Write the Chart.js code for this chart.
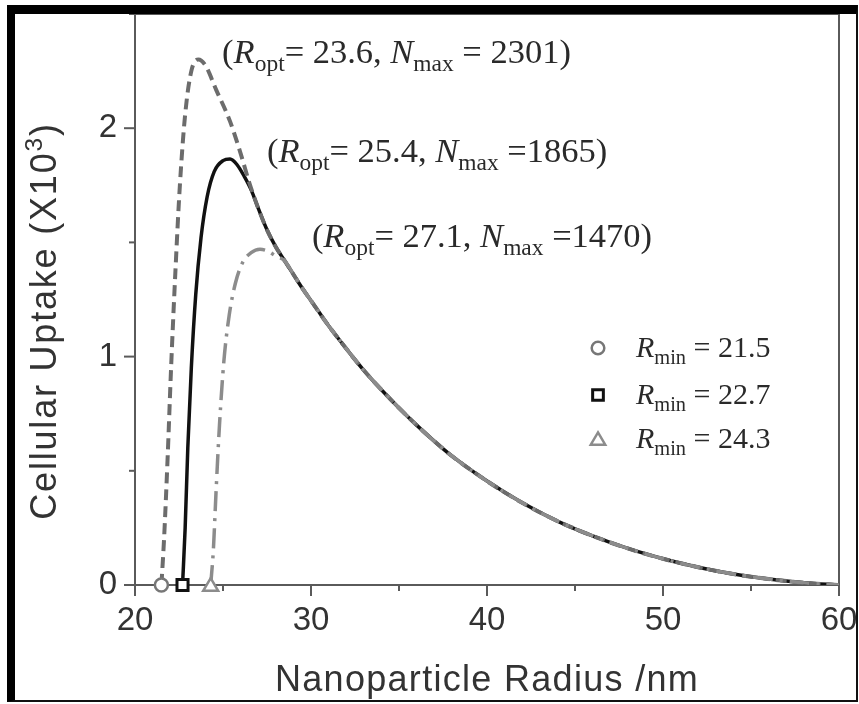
<!DOCTYPE html>
<html>
<head>
<meta charset="utf-8">
<script src="https://cdn.jsdelivr.net/npm/chart.js@4.4.1/dist/chart.umd.min.js"></script>
<style>
  html, body { margin: 0; padding: 0; background: #ffffff; }
  #wrap { position: relative; width: 859px; height: 704px; }
  #plot { position: absolute; left: 0; top: 0; }
  #frame {
    position: absolute; left: 7px; top: 5px; width: 851px; height: 697px;
    box-sizing: border-box; pointer-events: none;
    border-top: 9px solid #000; border-left: 8px solid #000;
    border-right: 2px solid #111; border-bottom: 2px solid #111;
  }
</style>
</head>
<body>
<div id="wrap">
  <canvas id="plot" width="859" height="704"></canvas>
  <div id="frame"></div>
</div>
<script>
// Minimum radius, optimal radius and peak uptake for the three cases
const rMin = [21.5, 22.7, 24.3];
const rOpt = [23.6, 25.4, 27.1];
const nMax = [2301, 1865, 1470];

// Rising and falling branches of each curve (uptake in units of 10^3)
const dashedRiseR = [21.65, 21.85, 22.05, 22.3, 22.55, 22.85, 23.2];
const dashedRiseN = [0.2, 0.55, 0.95, 1.38, 1.75, 2.06, 2.25];
const dashedFallR = [24.0, 24.6, 25.4, 26.0, 26.5, 27.0];
const dashedFallN = [2.275, 2.17, 2.03, 1.89, 1.76, 1.65];

const solidRiseR = [22.85, 23.0, 23.2, 23.45, 23.75, 24.1, 24.5, 25.0];
const solidRiseN = [0.25, 0.6, 0.95, 1.27, 1.52, 1.70, 1.81, 1.858];
const solidFallR = [25.8, 26.2, 26.6, 27.0];
const solidFallN = [1.84, 1.79, 1.73, 1.65];

const dashDotRiseR = [24.45, 24.6, 24.8, 25.05, 25.35, 25.7, 26.1, 26.6];
const dashDotRiseN = [0.15, 0.40, 0.70, 0.98, 1.18, 1.32, 1.41, 1.455];
const dashDotFallR = [27.6, 28.0];
const dashDotFallN = [1.46, 1.44];

// Shared decaying branch at large radius
const tailR = [27.5, 28, 28.5, 29, 29.5, 30, 31, 32, 33, 34, 35, 36, 37, 38, 40, 42, 44, 46, 48, 50, 52, 54, 56, 58, 60];
const tailN = [1.555, 1.48, 1.42, 1.36, 1.30, 1.245, 1.135, 1.035, 0.94, 0.855, 0.775, 0.70, 0.63, 0.565, 0.455, 0.36, 0.28, 0.215, 0.16, 0.115, 0.078, 0.048, 0.026, 0.01, 0];

// Axis ticks
const xTicks = [20, 30, 40, 50, 60];
const yTicks = [0, 1, 2];

function zip(rs, ns) { return rs.map((r, i) => ({ x: r, y: ns[i] })); }

function buildCurve(i, riseR, riseN, fallR, fallN) {
  const pts = [{ x: rMin[i], y: 0 }]
    .concat(zip(riseR, riseN))
    .concat([{ x: rOpt[i], y: nMax[i] / 1000 }])
    .concat(zip(fallR, fallN));
  const last = pts[pts.length - 1].x;
  return pts.concat(zip(tailR, tailN).filter(p => p.x > last));
}

const curveDashed = buildCurve(0, dashedRiseR, dashedRiseN, dashedFallR, dashedFallN);
const curveSolid = buildCurve(1, solidRiseR, solidRiseN, solidFallR, solidFallN);
const curveDashDot = buildCurve(2, dashDotRiseR, dashDotRiseN, dashDotFallR, dashDotFallN);

const SANS = '"Liberation Sans", Arial, sans-serif';
const SERIF = '"Liberation Serif", "Times New Roman", serif';

// Text runs made of pieces that may be italic, subscript or superscript
function setPartFont(ctx, p, size, family) {
  const s = (p.sub || p.sup) ? size * 0.68 : size;
  ctx.font = (p.italic ? 'italic ' : '') + s + 'px ' + family;
}
function richWidth(ctx, parts, size, family) {
  let w = 0;
  for (const p of parts) { setPartFont(ctx, p, size, family); w += ctx.measureText(p.t).width; }
  return w;
}
function drawRich(ctx, x, y, parts, size, family, color) {
  ctx.fillStyle = color;
  ctx.textBaseline = 'alphabetic';
  ctx.textAlign = 'left';
  for (const p of parts) {
    setPartFont(ctx, p, size, family);
    const dy = p.sub ? size * 0.22 : (p.sup ? -size * 0.40 : 0);
    ctx.fillText(p.t, x, y + dy);
    x += ctx.measureText(p.t).width;
  }
  return x;
}

function markerPath(ctx, style, x, y, r) {
  ctx.beginPath();
  if (style === 'circle') {
    ctx.arc(x, y, r, 0, Math.PI * 2);
  } else if (style === 'rect') {
    ctx.rect(x - r * 0.85, y - r * 0.85, r * 1.7, r * 1.7);
  } else {
    ctx.moveTo(x, y - r * 1.05);
    ctx.lineTo(x + r * 1.15, y + r * 0.9);
    ctx.lineTo(x - r * 1.15, y + r * 0.9);
    ctx.closePath();
  }
}

const markerStyles = ['circle', 'rect', 'triangle'];
const markerColors = ['#777777', '#111111', '#8c8c8c'];
const markerWidths = [2.5, 3, 2.5];

const decorations = {
  id: 'decorations',
  beforeDatasetsDraw(chart) {
    const { ctx, chartArea: a, scales: { x, y } } = chart;
    ctx.save();
    ctx.strokeStyle = '#5a5a5a';
    ctx.lineWidth = 2;
    // top and right frame lines
    ctx.beginPath();
    ctx.moveTo(a.left, a.top); ctx.lineTo(a.right, a.top); ctx.lineTo(a.right, a.bottom);
    ctx.stroke();
    // outward ticks, long at labelled values
    for (let v = 20; v <= 60; v += 5) {
      const px = x.getPixelForValue(v);
      const len = v % 10 === 0 ? 11 : 6;
      ctx.beginPath(); ctx.moveTo(px, a.bottom); ctx.lineTo(px, a.bottom + len); ctx.stroke();
    }
    for (let v = 0; v <= 2.5; v += 0.5) {
      const py = y.getPixelForValue(v);
      const len = Number.isInteger(v) ? 11 : 6;
      ctx.beginPath(); ctx.moveTo(a.left, py); ctx.lineTo(a.left - len, py); ctx.stroke();
    }
    ctx.restore();
  },
  afterDraw(chart) {
    const { ctx, chartArea: a, scales: { x, y } } = chart;
    ctx.save();
    const textColor = '#2a2a2a';

    // x-axis title
    ctx.font = '36px ' + SANS;
    ctx.letterSpacing = '1.3px';
    ctx.fillStyle = '#333';
    ctx.textAlign = 'center';
    ctx.textBaseline = 'alphabetic';
    ctx.fillText('Nanoparticle Radius /nm', (a.left + a.right) / 2, 691);

    // y-axis title with superscript
    ctx.letterSpacing = '1.8px';
    const yParts = [{ t: 'Cellular Uptake (X10' }, { t: '3', sup: true }, { t: ')' }];
    const yw = richWidth(ctx, yParts, 36, SANS);
    ctx.translate(56, 321);
    ctx.rotate(-Math.PI / 2);
    drawRich(ctx, -yw / 2, 0, yParts, 36, SANS, '#333');
    ctx.setTransform(1, 0, 0, 1, 0, 0);
    ctx.letterSpacing = '0px';

    // peak annotations
    const annX = [24.95, 27.5, 30.05];
    const annY = [2.285, 1.85, 1.48];
    const eqGap = [' = ', ' =', ' ='];
    for (let i = 0; i < 3; i++) {
      const parts = [
        { t: '(' }, { t: 'R', italic: true }, { t: 'opt', sub: true },
        { t: '= ' + rOpt[i].toFixed(1) + ', ' }, { t: 'N', italic: true }, { t: 'max', sub: true },
        { t: eqGap[i] + nMax[i] + ')' }
      ];
      drawRich(ctx, x.getPixelForValue(annX[i]), y.getPixelForValue(annY[i]), parts, 34.5, SERIF, textColor);
    }

    // legend
    const legX = 598, legTextX = 636;
    const legY = [348, 395, 439];
    for (let i = 0; i < 3; i++) {
      ctx.fillStyle = '#ffffff';
      ctx.strokeStyle = markerColors[i];
      ctx.lineWidth = markerWidths[i];
      markerPath(ctx, markerStyles[i], legX, legY[i], 6.3);
      ctx.fill(); ctx.stroke();
      const parts = [{ t: 'R', italic: true }, { t: 'min', sub: true }, { t: ' = ' + rMin[i].toFixed(1) }];
      drawRich(ctx, legTextX, legY[i] + 9, parts, 30, SERIF, textColor);
    }
    ctx.restore();
  }
};

// markers sitting on the radius axis at each minimum radius
const markerPlugin = {
  id: 'axisMarkers',
  afterDatasetsDraw(chart) {
    const { ctx, scales: { x, y } } = chart;
    ctx.save();
    for (let i = 0; i < 3; i++) {
      ctx.fillStyle = '#ffffff';
      ctx.strokeStyle = markerColors[i];
      ctx.lineWidth = markerWidths[i];
      markerPath(ctx, markerStyles[i], x.getPixelForValue(rMin[i]), y.getPixelForValue(0), 6.5);
      ctx.fill(); ctx.stroke();
    }
    ctx.restore();
  }
};

function noEdgePadding(s) { s.paddingTop = 0; s.paddingBottom = 0; s.paddingLeft = 0; s.paddingRight = 0; }

// solid drawn first so the gray dashed curves show on top along the shared tail
new Chart(document.getElementById('plot'), {
  type: 'line',
  data: {
    datasets: [
      { label: 'Rmin = 22.7', data: curveSolid, borderColor: '#111111', borderWidth: 3.5, order: 3 },
      { label: 'Rmin = 21.5', data: curveDashed, borderColor: '#6c6c6c', borderWidth: 4, borderDash: [11, 6], order: 2 },
      { label: 'Rmin = 24.3', data: curveDashDot, borderColor: '#8c8c8c', borderWidth: 3.5, borderDash: [20, 7, 3, 7], order: 1 }
    ]
  },
  options: {
    responsive: false,
    animation: false,
    events: [],
    datasets: {
      line: { pointRadius: 0, cubicInterpolationMode: 'monotone', fill: false, borderCapStyle: 'butt' }
    },
    layout: { padding: { left: 0, top: 14, right: 20, bottom: 0 } },
    plugins: { legend: { display: false }, tooltip: { enabled: false } },
    scales: {
      x: {
        type: 'linear', min: 20, max: 60,
        grid: { display: false, drawTicks: false },
        border: { display: true, color: '#5a5a5a', width: 2 },
        afterBuildTicks: s => { s.ticks = xTicks.map(v => ({ value: v })); },
        ticks: { font: { family: SANS, size: 33 }, color: '#333', padding: 16, maxRotation: 0 },
        afterFit: s => { s.height = 119; noEdgePadding(s); }
      },
      y: {
        type: 'linear', min: 0, max: 2.5,
        grid: { display: false, drawTicks: false },
        border: { display: true, color: '#5a5a5a', width: 2 },
        afterBuildTicks: s => { s.ticks = yTicks.map(v => ({ value: v })); },
        ticks: { font: { family: SANS, size: 33 }, color: '#333', padding: 18 },
        afterFit: s => { s.width = 135; noEdgePadding(s); }
      }
    }
  },
  plugins: [decorations, markerPlugin]
});
</script>
</body>
</html>
